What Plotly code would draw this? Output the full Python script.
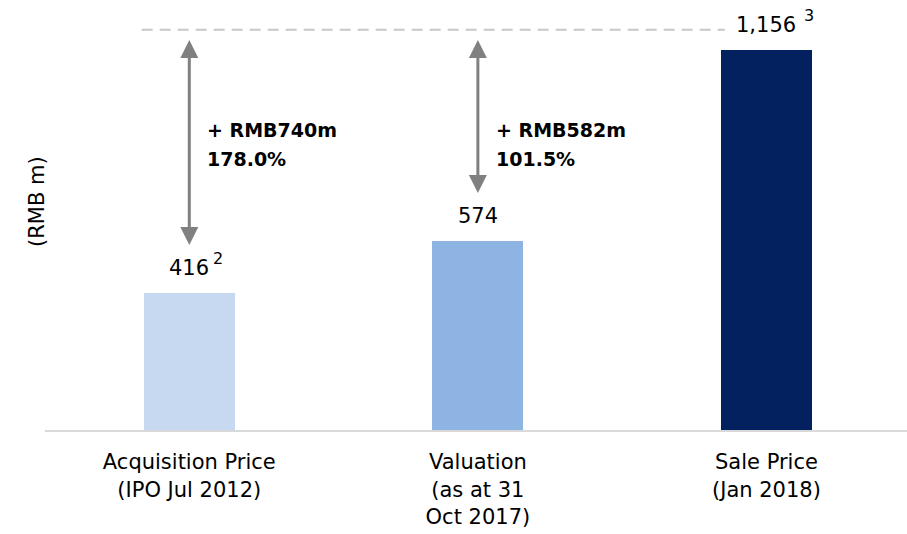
import plotly.graph_objects as go

categories = ["Acquisition Price<br>(IPO Jul 2012)", "Valuation<br>(as at 31<br>Oct 2017)", "Sale Price<br>(Jan 2018)"]
values = [416, 574, 1156]
value_labels = ["416", "574", "1,156"]
value_notes = ["2", "", "3"]
bar_colors = ["#C6D9F1", "#8EB4E3", "#03215E"]
uplift_amounts = ["+ RMB740m", "+ RMB582m"]
uplift_pcts = ["178.0%", "101.5%"]

FONT = "DejaVu Sans, sans-serif"
x_pos = list(range(len(categories)))
sale = values[-1]

fig = go.Figure()
fig.add_trace(go.Bar(
    x=x_pos, y=values, marker_color=bar_colors, width=0.315,
    marker_line_width=0, hoverinfo="skip", showlegend=False,
))

# dashed reference line at sale level
top_line = sale * 1.053
fig.add_shape(type="line", xref="x", yref="y", x0=-0.165, x1=1.856,
              y0=top_line, y1=top_line,
              line=dict(color="#C8C8C8", width=2, dash="11px,7px"))

anns = []
# value labels (number centred on bar, footnote superscript to its right)
for i, (v, t, n) in enumerate(zip(values, value_labels, value_notes)):
    anns.append(dict(x=i, y=v, text=t, showarrow=False, xref="x", yref="y",
                     yanchor="bottom", yshift=11,
                     font=dict(family=FONT, size=21, color="#000000")))
    if n:
        half_w = len(t) * 21 * 0.318
        anns.append(dict(x=i, y=v, text=n, showarrow=False, xref="x", yref="y",
                         xanchor="left", yanchor="bottom", yshift=23, xshift=half_w + 2,
                         font=dict(family=FONT, size=16, color="#000000")))

# double arrows and uplift text
for i in range(2):
    anns.append(dict(x=i, y=values[i] + 147, ax=i, ay=sale * 1.03,
                     xref="x", yref="y", axref="x", ayref="y", text="",
                     showarrow=True, arrowhead=2, arrowside="end+start",
                     arrowsize=1.2, arrowwidth=3, arrowcolor="#808080"))
    anns.append(dict(x=i + 0.055, y=868, text="<b>" + uplift_amounts[i] + "</b>", showarrow=False,
                     xref="x", yref="y", xanchor="left", yanchor="middle", align="left",
                     yshift=14.5, font=dict(family=FONT, size=19, color="#000000")))
    anns.append(dict(x=i + 0.055, y=868, text="<b>" + uplift_pcts[i] + "</b>", showarrow=False,
                     xref="x", yref="y", xanchor="left", yanchor="middle", align="left",
                     yshift=-14.5, font=dict(family=FONT, size=19, color="#000000")))

# y-axis title
anns.append(dict(xref="paper", yref="paper", x=-0.0093, y=(430 - 201) / 430,
                 xanchor="center", yanchor="middle", text="(RMB m)", showarrow=False,
                 textangle=-90, font=dict(family=FONT, size=21, color="#000000")))

fig.update_layout(
    width=907, height=534,
    margin=dict(l=45, r=0, t=0, b=104),
    plot_bgcolor="white", paper_bgcolor="white",
    annotations=anns,
    bargap=0,
    xaxis=dict(range=[-0.5, 2.487], tickmode="array", tickvals=x_pos, ticktext=categories,
               showline=True, linecolor="#D9D9D9", linewidth=2, showgrid=False, zeroline=False,
               ticks="", ticklabelstandoff=12,
               tickfont=dict(family=FONT, size=21, color="#000000")),
    yaxis=dict(range=[0, 1308], visible=False, showgrid=False, zeroline=False),
)

fig.write_html("out.html", config={"displayModeBar": False},
               post_script="document.body.style.margin='0';document.body.style.overflow='hidden';")
